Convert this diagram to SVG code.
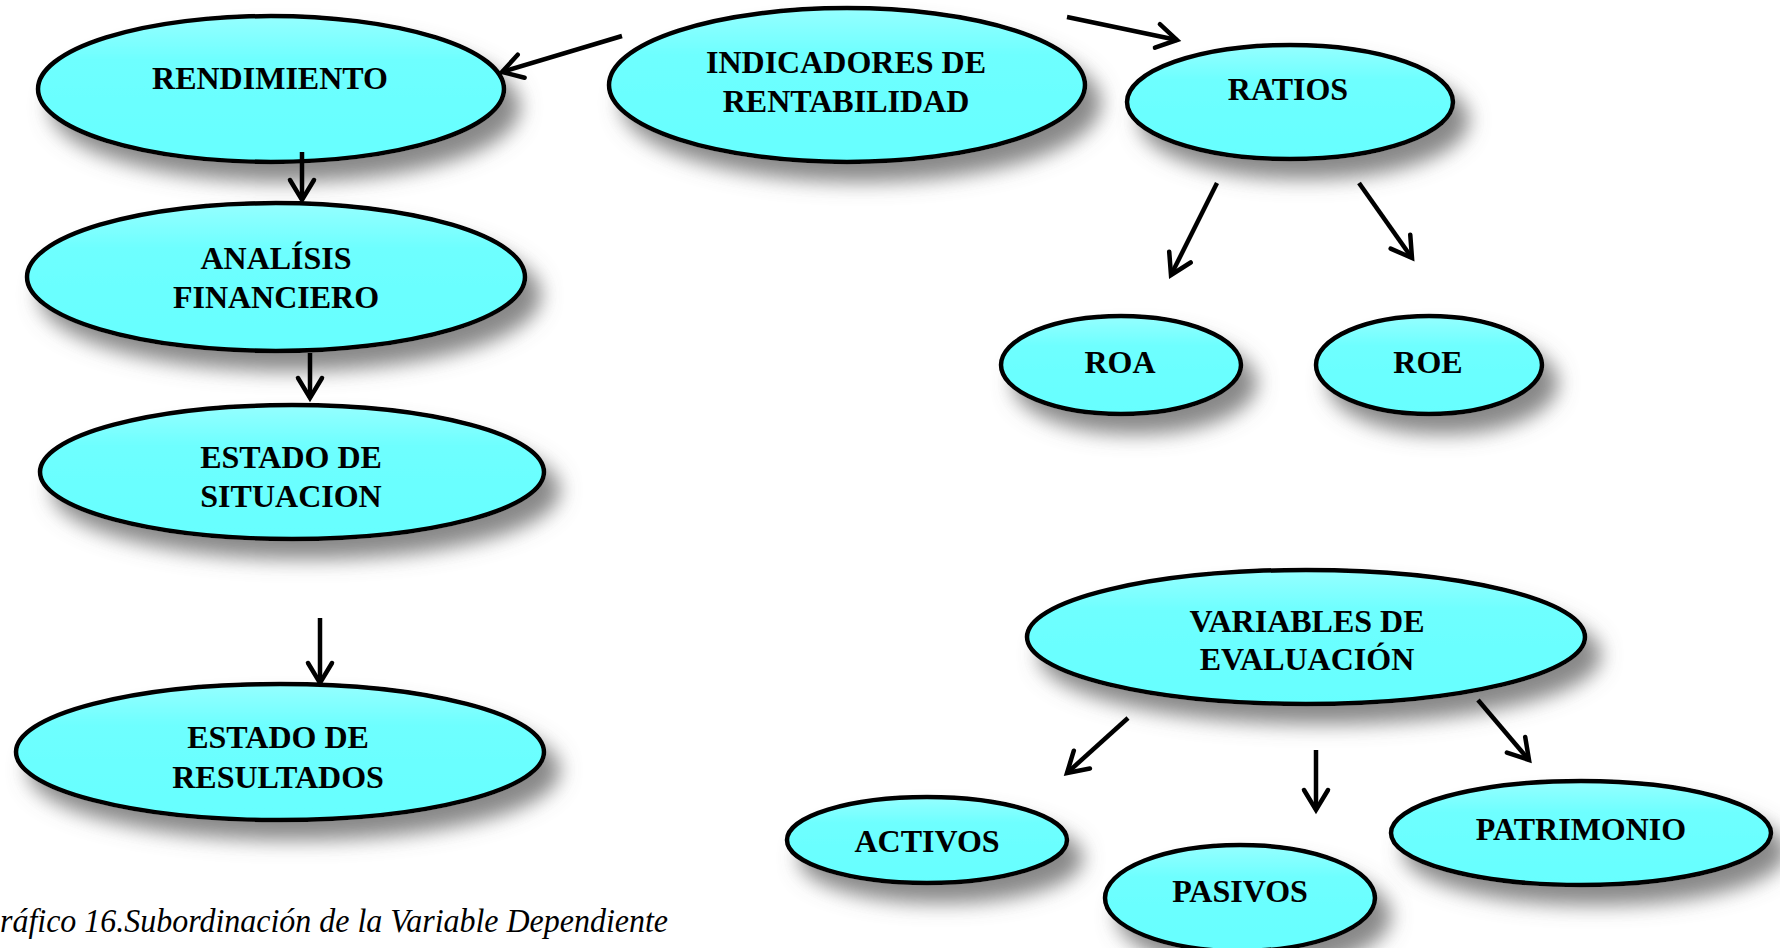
<svg xmlns="http://www.w3.org/2000/svg" width="1780" height="948" viewBox="0 0 1780 948">
<style>
.node ellipse{fill:url(#cy);stroke:#000;stroke-width:4.5;filter:url(#sh)}
.node text{font-family:"Liberation Serif","Times New Roman",serif;font-weight:bold;font-size:32px;fill:#000;text-anchor:middle}
.conn line{stroke:#000;stroke-width:4.5;marker-end:url(#ah)}
.cap{font-family:"Liberation Serif","Times New Roman",serif;font-style:italic;font-size:33px;fill:#000}
</style>
<defs>
<linearGradient id="cy" x1="0" y1="0" x2="0" y2="1">
<stop offset="0" stop-color="#96ffff"/>
<stop offset="0.3" stop-color="#6effff"/>
<stop offset="1" stop-color="#66ffff"/>
</linearGradient>
<filter id="sh" x="-20%" y="-30%" width="150%" height="190%">
<feDropShadow dx="14" dy="18" stdDeviation="10" flood-color="#6a6a6a" flood-opacity="0.8"/>
</filter>
<marker id="ah" markerUnits="userSpaceOnUse" markerWidth="40" markerHeight="40" viewBox="-30 -20 40 40" refX="0" refY="0" orient="auto">
<path d="M-20,-12 L0,0 L-20,12" fill="none" stroke="#000" stroke-width="4.5" stroke-linecap="round" stroke-linejoin="miter"/>
</marker>
</defs>
<rect width="1780" height="948" fill="#fff"/>
<g id="n-rendimiento" class="node"><ellipse cx="271" cy="89" rx="233" ry="73"/><text x="270" y="89">RENDIMIENTO</text></g>
<g id="n-indicadores" class="node"><ellipse cx="847" cy="85" rx="238" ry="77"/><text x="846" y="73">INDICADORES DE</text><text x="846" y="112">RENTABILIDAD</text></g>
<g id="n-ratios" class="node"><ellipse cx="1290" cy="102" rx="163" ry="57"/><text x="1288" y="100">RATIOS</text></g>
<g id="n-analisis" class="node"><ellipse cx="276" cy="277" rx="249" ry="74"/><text x="276" y="269">ANALÍSIS</text><text x="276" y="308">FINANCIERO</text></g>
<g id="n-situacion" class="node"><ellipse cx="292" cy="472" rx="252" ry="67"/><text x="291" y="468">ESTADO DE</text><text x="291" y="507">SITUACION</text></g>
<g id="n-resultados" class="node"><ellipse cx="280" cy="752" rx="264" ry="68"/><text x="278" y="748">ESTADO DE</text><text x="278" y="788">RESULTADOS</text></g>
<g id="n-roa" class="node"><ellipse cx="1121" cy="365" rx="120" ry="49"/><text x="1120" y="373">ROA</text></g>
<g id="n-roe" class="node"><ellipse cx="1429" cy="365" rx="113" ry="49"/><text x="1428" y="373">ROE</text></g>
<g id="n-variables" class="node"><ellipse cx="1306" cy="637" rx="279" ry="67"/><text x="1307" y="632">VARIABLES DE</text><text x="1307" y="670">EVALUACIÓN</text></g>
<g id="n-activos" class="node"><ellipse cx="927" cy="840" rx="140" ry="43"/><text x="927" y="852">ACTIVOS</text></g>
<g id="n-pasivos" class="node"><ellipse cx="1240" cy="898" rx="135" ry="53"/><text x="1240" y="902">PASIVOS</text></g>
<g id="n-patrimonio" class="node"><ellipse cx="1581" cy="833" rx="190" ry="52"/><text x="1581" y="840">PATRIMONIO</text></g>
<g id="connectors" class="conn">
<line x1="622" y1="36" x2="502" y2="72"/>
<line x1="1067" y1="17" x2="1177" y2="40"/>
<line x1="302" y1="152" x2="302" y2="200"/>
<line x1="310" y1="353" x2="310" y2="398"/>
<line x1="320" y1="618" x2="320" y2="683"/>
<line x1="1217" y1="183" x2="1171" y2="275"/>
<line x1="1359" y1="183" x2="1412" y2="258"/>
<line x1="1128" y1="718" x2="1067" y2="773"/>
<line x1="1316" y1="750" x2="1316" y2="810"/>
<line x1="1478" y1="700" x2="1529" y2="760"/>
</g>
<text class="cap" x="0" y="932" textLength="668" lengthAdjust="spacingAndGlyphs">ráfico 16.Subordinación de la Variable Dependiente</text>
</svg>
